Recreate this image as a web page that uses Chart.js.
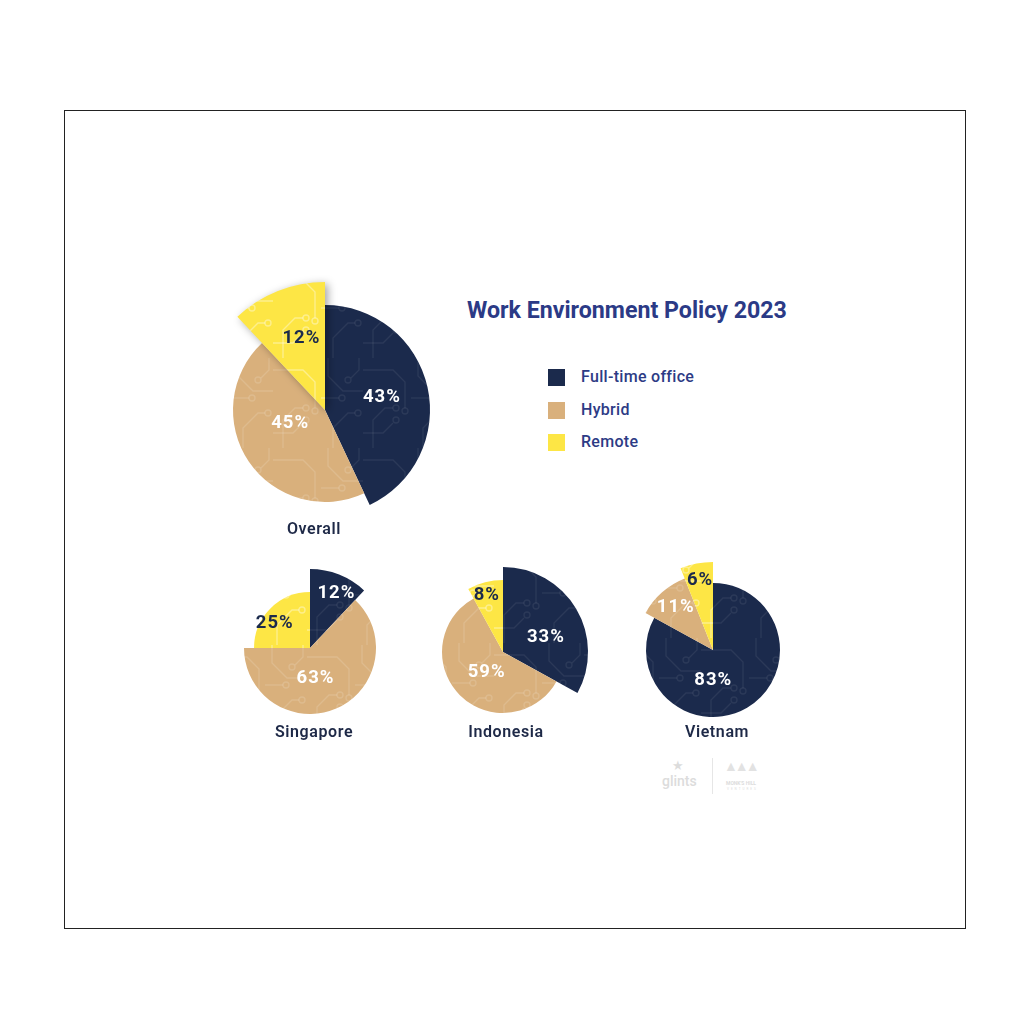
<!DOCTYPE html>
<html>
<head>
<meta charset="utf-8">
<script src="https://cdn.jsdelivr.net/npm/chart.js@4.4.1/dist/chart.umd.min.js"></script>
<style>
  body { margin: 0; background: #fff; font-family: Roboto, "Noto Sans", sans-serif; }
  #page { position: relative; width: 1024px; height: 1024px; overflow: hidden; }
  #frame { position: absolute; left: 64px; top: 110px; width: 900px; height: 817px; border: 1.5px solid #222; }
  canvas { position: absolute; }
  .title { position: absolute; left: 467px; top: 296px; font-size: 23.2px; font-weight: 700; color: #2b3a86; white-space: nowrap; }
  .legend { position: absolute; left: 548px; top: 369px; }
  .legend div { position: relative; height: 32.5px; font-size: 16px; font-weight: 500; color: #2d3b85; }
  .legend span.box { position: absolute; left: 0; top: 0; width: 17px; height: 17px; }
  .legend span.txt { position: absolute; left: 33px; top: -2px; white-space: nowrap; letter-spacing: 0.3px; }
  .name { position: absolute; transform: translate(-50%, -50%); font-size: 16px; font-weight: 600; color: #1e2947; white-space: nowrap; letter-spacing: 0.6px; }
  .logo { position: absolute; color: #dcdcdc; white-space: nowrap; }
</style>
</head>
<body>
<div id="page">
  <div id="frame"></div>
  <div class="title" id="title"></div>
  <div class="legend" id="legend"></div>
  <div class="logo" style="left:662px;top:773px;font-size:14px;font-weight:500;">glints</div>
  <div class="logo" style="left:672px;top:758px;font-size:13px;">&#9733;</div>
  <div style="position:absolute;left:712px;top:758px;width:1px;height:36px;background:#e6e6e6;"></div>
  <div class="logo" style="left:724px;top:758px;font-size:14px;letter-spacing:-3px;color:#e2e2e2;">&#9650;&#9650;&#9650;</div>
  <div class="logo" style="left:726px;top:780px;font-size:5px;font-weight:700;">MONK'S HILL</div>
  <div class="logo" style="left:727px;top:787px;font-size:3px;letter-spacing:2px;">VENTURES</div>
</div>
<script>
// ---- data ----
const categories = ['Full-time office', 'Hybrid', 'Remote'];
const regions = ['Overall', 'Singapore', 'Indonesia', 'Vietnam'];
const overallValues = [43, 45, 12];
const singaporeValues = [12, 63, 25];
const indonesiaValues = [33, 59, 8];
const vietnamValues = [83, 11, 6];
const chartTitle = 'Work Environment Policy 2023';

// ---- style ----
const colors = ['#1b2a4c', '#d9b07c', '#fde645'];
const traceColors = ['rgba(255,255,255,0.07)', 'rgba(255,255,255,0.14)', 'rgba(255,255,255,0.38)'];
const labelColors = ['#ffffff', '#ffffff', '#1b2a4c'];

// layout of each pie: centre, slice radii (px), label placement [angle shift deg, radius fraction]
const pies = [
  { values: overallValues,   cx: 325, cy: 410, radii: [105, 92, 128], shadow: [0, 0, 1],
    labels: [[0, 0.55], [14, 0.41], [3, 0.59]], nameY: 528, nameX: 314 },
  { values: singaporeValues, cx: 310, cy: 648, radii: [79, 66, 56], shadow: [0, 0, 0],
    labels: [[4, 0.76], [14, 0.47], [-10, 0.78]], nameY: 731, nameX: 314 },
  { values: indonesiaValues, cx: 503, cy: 652, radii: [85, 61, 72], shadow: [0, 0, 0],
    labels: [[11, 0.53], [-5, 0.43], [-2, 0.82]], nameY: 731, nameX: 506 },
  { values: vietnamValues,   cx: 713, cy: 650, radii: [67, 77, 88], shadow: [0, 0, 0],
    labels: [[31, 0.46], [0, 0.74], [0, 0.81]], nameY: 731, nameX: 717 }
];

document.getElementById('title').textContent = chartTitle;
const legendEl = document.getElementById('legend');
categories.forEach((c, i) => {
  const row = document.createElement('div');
  row.innerHTML = '<span class="box" style="background:' + colors[i] + '"></span><span class="txt">' + c + '</span>';
  legendEl.appendChild(row);
});

// circuit-board texture used as slice fill
function circuitPattern(base, trace) {
  const t = document.createElement('canvas');
  t.width = 90; t.height = 90;
  const c = t.getContext('2d');
  c.fillStyle = base;
  c.fillRect(0, 0, 90, 90);
  c.strokeStyle = trace;
  c.lineWidth = 1.4;
  const paths = [
    [[0, 12], [30, 12], [42, 24], [42, 50]],
    [[10, 90], [10, 62], [22, 50], [30, 50]],
    [[55, 0], [55, 18], [70, 33], [90, 33]],
    [[60, 90], [60, 70], [75, 55], [82, 55]],
    [[0, 75], [20, 75], [30, 65]],
    [[48, 40], [66, 40]],
    [[86, 0], [86, 12], [78, 20]]
  ];
  paths.forEach(pts => {
    c.beginPath();
    c.moveTo(pts[0][0], pts[0][1]);
    for (let i = 1; i < pts.length; i++) c.lineTo(pts[i][0], pts[i][1]);
    c.stroke();
  });
  [[42, 53], [33, 50], [85, 55], [33, 62], [69, 40], [75, 22]].forEach(q => {
    c.beginPath(); c.arc(q[0], q[1], 3, 0, Math.PI * 2); c.stroke();
  });
  return c.createPattern(t, 'repeat');
}
const fills = colors.map((col, i) => circuitPattern(col, traceColors[i]));

// each slice gets its own radius
const sliceRadius = {
  id: 'sliceRadius',
  afterDatasetUpdate(chart, args, opts) {
    const meta = args.meta;
    const base = meta.controller.outerRadius;
    const max = Math.max(...opts.radii);
    meta.data.forEach((arc, i) => { arc.outerRadius = base * opts.radii[i] / max; });
  },
  beforeDatasetDraw(chart, args, opts) {
    const ctx = chart.ctx;
    args.meta.data.forEach((arc, i) => {
      ctx.save();
      if (opts.shadow[i]) {
        ctx.shadowColor = 'rgba(0,0,0,0.35)';
        ctx.shadowBlur = 8;
        ctx.shadowOffsetX = 3;
        ctx.shadowOffsetY = 2;
      }
      arc.draw(ctx);
      ctx.restore();
    });
    return false;
  }
};

const sliceLabels = {
  id: 'sliceLabels',
  afterDatasetsDraw(chart, args, opts) {
    const ctx = chart.ctx;
    const meta = chart.getDatasetMeta(0);
    const vals = chart.data.datasets[0].data;
    ctx.save();
    ctx.font = '700 18.5px Roboto, "Noto Sans", sans-serif';
    ctx.letterSpacing = '1px';
    ctx.textAlign = 'center';
    ctx.textBaseline = 'middle';
    meta.data.forEach((arc, i) => {
      const p = opts.place[i];
      const mid = (arc.startAngle + arc.endAngle) / 2 + p[0] * Math.PI / 180;
      const r = arc.outerRadius * p[1];
      ctx.fillStyle = labelColors[i];
      ctx.fillText(vals[i] + '%', arc.x + Math.cos(mid) * r + 0.5, arc.y + Math.sin(mid) * r);
    });
    ctx.restore();
  }
};

const page = document.getElementById('page');
pies.forEach((p, k) => {
  const maxR = Math.max(...p.radii);
  const pad = 14;
  const size = 2 * (maxR + pad);
  const cv = document.createElement('canvas');
  cv.width = size; cv.height = size;
  cv.style.left = (p.cx - size / 2) + 'px';
  cv.style.top = (p.cy - size / 2) + 'px';
  cv.style.width = size + 'px'; cv.style.height = size + 'px';
  page.appendChild(cv);

  new Chart(cv, {
    type: 'pie',
    data: {
      labels: categories,
      datasets: [{ data: p.values, backgroundColor: fills, borderWidth: 0 }]
    },
    options: {
      responsive: false,
      animation: false,
      layout: { padding: pad },
      plugins: {
        legend: { display: false },
        tooltip: { enabled: false },
        sliceRadius: { radii: p.radii, shadow: p.shadow },
        sliceLabels: { place: p.labels }
      }
    },
    plugins: [sliceRadius, sliceLabels]
  });

  const nm = document.createElement('div');
  nm.className = 'name';
  nm.style.left = p.nameX + 'px';
  nm.style.top = p.nameY + 'px';
  nm.textContent = regions[k];
  page.appendChild(nm);
});
</script>
</body>
</html>
